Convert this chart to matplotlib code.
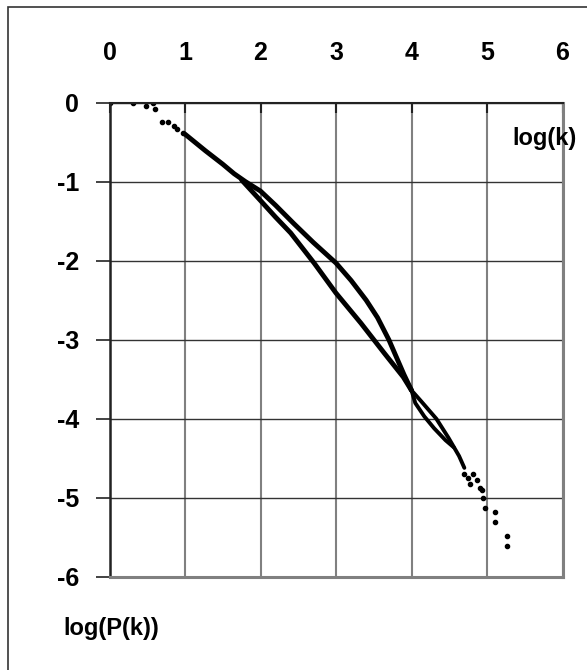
import matplotlib
matplotlib.use("Agg")
import matplotlib.pyplot as plt
from matplotlib.patches import Rectangle

plt.rcParams['font.family'] = ['Liberation Sans', 'DejaVu Sans']
plt.rcParams['font.weight'] = 'bold'

# sparse dots at small k (shared by both series)
head_x = [0.0, 0.31, 0.49, 0.57, 0.60, 0.70, 0.78, 0.85, 0.90, 0.97]
head_y = [0.0, 0.0, -0.05, 0.0, -0.08, -0.25, -0.25, -0.30, -0.33, -0.38]

# dense part, upper (concave) series
upper_x = [1.0, 1.27, 1.5, 1.65, 1.8, 2.0, 2.2, 2.44, 2.7, 3.0, 3.2, 3.4,
           3.55, 3.7, 3.8, 3.9, 4.0]
upper_y = [-0.40, -0.61, -0.78, -0.90, -1.00, -1.12, -1.30, -1.53, -1.77,
           -2.03, -2.25, -2.50, -2.72, -3.00, -3.22, -3.44, -3.64]

# dense part, lower (straighter) series
lower_x = [1.75, 2.0, 2.2, 2.4, 2.71, 3.0, 3.33, 3.64, 3.89, 4.0]
lower_y = [-0.98, -1.24, -1.45, -1.65, -2.03, -2.41, -2.79, -3.17, -3.47,
           -3.64]

# the two strands after they cross
strand1_x = [4.0, 4.05, 4.17, 4.3, 4.45, 4.56]
strand1_y = [-3.64, -3.80, -3.97, -4.12, -4.27, -4.36]
strand2_x = [4.0, 4.13, 4.33, 4.49, 4.63, 4.70]
strand2_y = [-3.64, -3.78, -4.00, -4.24, -4.47, -4.62]

# sparse dots at large k
tail_x = [4.70, 4.75, 4.82, 4.78, 4.87, 4.91, 4.93, 4.95, 4.98, 5.11, 5.11,
          5.27, 5.27]
tail_y = [-4.70, -4.75, -4.70, -4.82, -4.77, -4.87, -4.90, -5.00, -5.13,
          -5.18, -5.30, -5.48, -5.61]

x_ticks = [0, 1, 2, 3, 4, 5, 6]
y_ticks = [0, -1, -2, -3, -4, -5, -6]

fig = plt.figure(figsize=(5.87, 6.70), dpi=100)
W, H = 587, 670
left, right, top, bottom = 109.5, 562.5, 102.5, 577
ax = fig.add_axes([left / W, 1 - bottom / H, (right - left) / W, (bottom - top) / H])

# outer chart frame (only top and left visible)
fig.add_artist(Rectangle((8 / W, -0.1), 1.2, 1 - 7 / H + 0.1,
                         transform=fig.transFigure, fill=False,
                         edgecolor='#333333', linewidth=1.2))

ax.plot(upper_x, upper_y, color='black', linewidth=3.5, solid_capstyle='round')
ax.plot(lower_x, lower_y, color='black', linewidth=3.5, solid_capstyle='round')
ax.plot(strand1_x, strand1_y, color='black', linewidth=2.8, solid_capstyle='round')
ax.plot(strand2_x, strand2_y, color='black', linewidth=2.8, solid_capstyle='round')
ax.plot(head_x, head_y, 'o', color='black', markersize=3)
ax.plot(tail_x, tail_y, 'o', color='black', markersize=3)

ax.set_xlim(0, 6)
ax.set_ylim(-6, 0)
ax.set_xticks(x_ticks)
ax.set_yticks(y_ticks)
ax.set_xticklabels([str(v) for v in x_ticks])
ax.set_yticklabels([str(v) for v in y_ticks])

ax.xaxis.tick_top()
ax.tick_params(axis='x', direction='in', length=7, width=1.5, color='#222222',
               pad=27, labelsize=18)
ax.tick_params(axis='y', direction='out', length=10, width=1.2, color='#222222',
               pad=12, labelsize=18)

ax.xaxis.grid(True, color='#808080', linewidth=1.5)
ax.yaxis.grid(True, color='#333333', linewidth=1.0)
ax.set_axisbelow(True)

ax.spines['left'].set_color('#222222')
ax.spines['left'].set_linewidth(1.8)
ax.spines['top'].set_color('#222222')
ax.spines['top'].set_linewidth(1.5)
ax.spines['right'].set_color('#808080')
ax.spines['right'].set_linewidth(2.2)
ax.spines['bottom'].set_color('#808080')
ax.spines['bottom'].set_linewidth(2.2)

fig.text(512 / W, 1 - 138 / H, 'log(k)', fontsize=17, fontweight='bold',
         ha='left', va='center')
fig.text(63 / W, 1 - 629 / H, 'log(P(k))', fontsize=17, fontweight='bold',
         ha='left', va='center')

fig.savefig('out.png', dpi=100)
